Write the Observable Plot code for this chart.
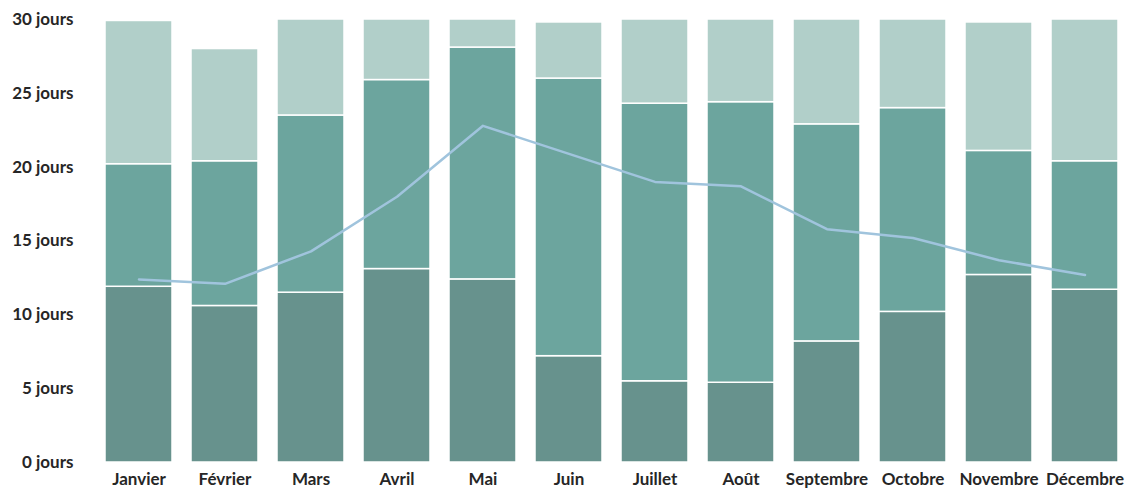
<!DOCTYPE html>
<html lang="fr">
<head>
<meta charset="utf-8">
<script src="https://cdn.jsdelivr.net/npm/d3@7"></script>
<script src="https://cdn.jsdelivr.net/npm/@observablehq/plot@0.6"></script>
<style>
  html, body { margin: 0; padding: 0; background: #ffffff; }
  #chart svg { display: block; }
</style>
</head>
<body>
<div id="chart"></div>
<script>
// Mois de l'année
const mois = ["Janvier", "Février", "Mars", "Avril", "Mai", "Juin",
              "Juillet", "Août", "Septembre", "Octobre", "Novembre", "Décembre"];

// Nombre de jours par catégorie (du bas vers le haut de chaque barre)
const joursBas    = [11.9, 10.6, 11.5, 13.1, 12.4,  7.2,  5.5,  5.4,  8.2, 10.2, 12.7, 11.7];
const joursMilieu = [ 8.3,  9.8, 12.0, 12.8, 15.7, 18.8, 18.8, 19.0, 14.7, 13.8,  8.4,  8.7];
const joursHaut   = [ 9.7,  7.6,  6.5,  4.1,  1.9,  3.8,  5.7,  5.6,  7.1,  6.0,  8.7,  9.6];

// Courbe superposée
const joursLigne  = [12.4, 12.1, 14.3, 18.0, 22.8, 20.9, 19.0, 18.7, 15.8, 15.2, 13.7, 12.7];

// Graduations de l'axe vertical
const graduations = [0, 5, 10, 15, 20, 25, 30];

const series = ["bas", "milieu", "haut"];
const couleurs = ["#67928d", "#6ca59e", "#b1cfc9"];

const valeurs = {bas: joursBas, milieu: joursMilieu, haut: joursHaut};
const barres = series.flatMap(s =>
  mois.map((m, i) => ({mois: m, serie: s, jours: valeurs[s][i]}))
);
const ligne = mois.map((m, i) => ({mois: m, jours: joursLigne[i]}));

const chart = Plot.plot({
  width: 1126,
  height: 488,
  marginTop: 19,
  marginBottom: 26,
  marginLeft: 100,
  marginRight: 3,
  style: {
    fontFamily: "Lato, 'Open Sans', sans-serif",
    fontSize: "17px",
    fontWeight: "bold",
    color: "#262626",
    background: "#ffffff"
  },
  x: {domain: mois, paddingInner: 0.22, paddingOuter: 0.05, label: null},
  y: {domain: [0, 30], label: null},
  color: {domain: series, range: couleurs},
  marks: [
    Plot.barY(barres, {
      x: "mois", y: "jours", fill: "serie", z: "serie",
      stroke: "#ffffff", strokeWidth: 1.5
    }),
    Plot.line(ligne, {
      x: "mois", y: "jours",
      stroke: "#a0c4dd", strokeWidth: 2.5, strokeLinejoin: "round"
    }),
    Plot.axisX({tickSize: 0, tickPadding: 10, label: null}),
    Plot.axisY({
      ticks: graduations, tickSize: 0, tickPadding: 27, label: null,
      tickFormat: d => `${d} jours`
    })
  ]
});

document.getElementById("chart").append(chart);
</script>
</body>
</html>
